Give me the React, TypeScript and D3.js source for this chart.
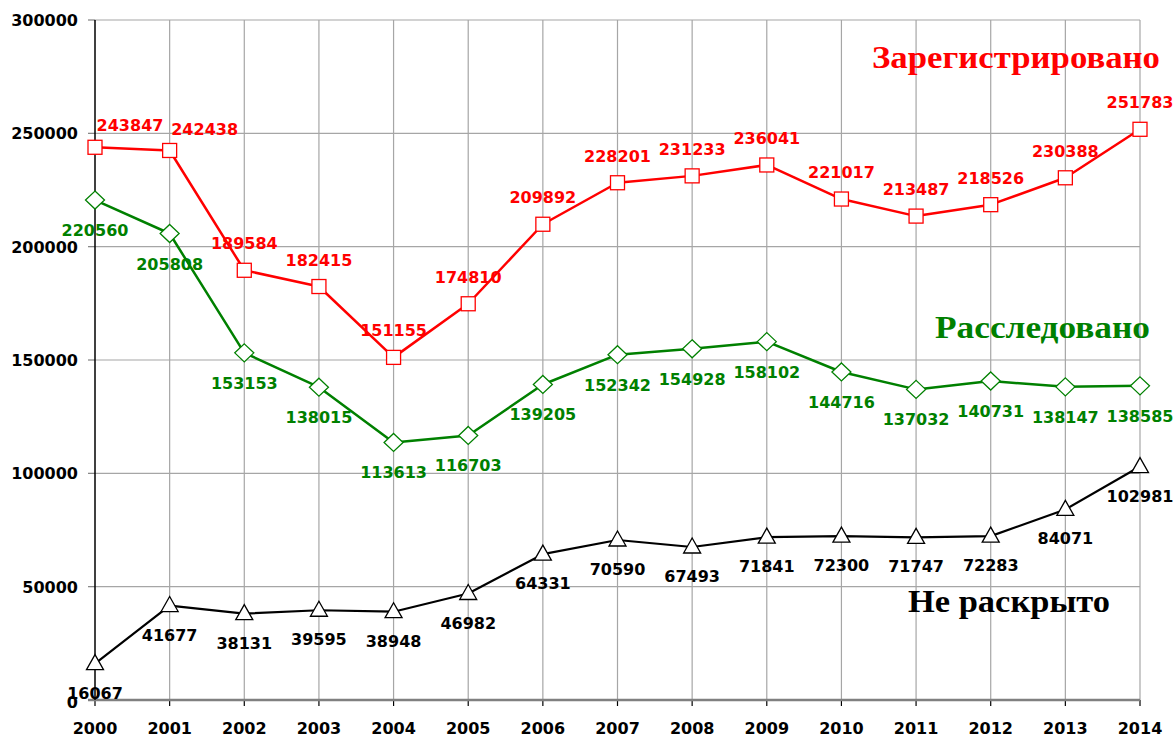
import React from "react";
import * as d3 from "d3";

const years = [2000, 2001, 2002, 2003, 2004, 2005, 2006, 2007, 2008, 2009, 2010, 2011, 2012, 2013, 2014];
const registered = [243847, 242438, 189584, 182415, 151155, 174810, 209892, 228201, 231233, 236041, 221017, 213487, 218526, 230388, 251783];
const investigated = [220560, 205808, 153153, 138015, 113613, 116703, 139205, 152342, 154928, 158102, 144716, 137032, 140731, 138147, 138585];
const unsolved = [16067, 41677, 38131, 39595, 38948, 46982, 64331, 70590, 67493, 71841, 72300, 71747, 72283, 84071, 102981];
const yTicks = [0, 50000, 100000, 150000, 200000, 250000, 300000];

const W = 1175;
const H = 738;
const x = d3.scaleLinear().domain([2000, 2014]).range([95, 1140]);
const y = d3.scaleLinear().domain([0, 300000]).range([700, 20]);

const FONT = "'DejaVu Sans', Verdana, sans-serif";
const SERIF = "'Liberation Serif', 'Times New Roman', serif";

const line = d3
  .line<[number, number]>()
  .x((d) => x(d[0]))
  .y((d) => y(d[1]));

// label offset rules (dx, baseline dy) per series; a few overrides for crowded points
const redOffset = (i: number): [number, number] => (i === 0 ? [35, -16] : i === 1 ? [35, -15] : [0, -21]);
const greenOffset = (_i: number): [number, number] => [0, 36];
const blackOffset = (_i: number): [number, number] => [0, 35];

function Series({
  values,
  color,
  width,
  marker,
  offset,
}: {
  values: number[];
  color: string;
  width: number;
  marker: "square" | "diamond" | "triangle";
  offset: (i: number) => [number, number];
}) {
  const pts: [number, number][] = years.map((yr, i) => [yr, values[i]]);
  return (
    <g>
      <path d={line(pts) || ""} fill="none" stroke={color} strokeWidth={width} strokeLinejoin="round" />
      {pts.map(([yr, v], i) => {
        const cx = x(yr);
        const cy = y(v);
        if (marker === "square")
          return <rect key={i} x={cx - 7} y={cy - 7} width={14} height={14} fill="white" stroke={color} strokeWidth={1.3} />;
        if (marker === "diamond")
          return (
            <path
              key={i}
              d={`M${cx},${cy - 9}L${cx + 9.5},${cy}L${cx},${cy + 9}L${cx - 9.5},${cy}Z`}
              fill="white"
              stroke={color}
              strokeWidth={1.3}
            />
          );
        return (
          <path
            key={i}
            d={`M${cx},${cy - 9}L${cx + 8.5},${cy + 6}L${cx - 8.5},${cy + 6}Z`}
            fill="white"
            stroke={color}
            strokeWidth={1.3}
          />
        );
      })}
      {pts.map(([yr, v], i) => {
        const [dx, dy] = offset(i);
        return (
          <text
            key={"t" + i}
            x={x(yr) + dx}
            y={y(v) + dy}
            textAnchor="middle"
            fontFamily={FONT}
            fontWeight="bold"
            fontSize={16}
            fill={color}
          >
            {v}
          </text>
        );
      })}
    </g>
  );
}

export default function App() {
  const grid = "#a6a6a6";
  return (
    <svg width={W} height={H} style={{ position: "absolute", left: 0, top: 0, background: "white" }}>
      <rect width={W} height={H} fill="white" />
      {/* horizontal grid */}
      {yTicks.map((t) => (
        <g key={t}>
          {t > 0 && <line x1={x(2000)} x2={x(2014)} y1={y(t)} y2={y(t)} stroke={grid} strokeWidth={1.2} />}
          <line x1={88} x2={x(2000)} y1={y(t)} y2={y(t)} stroke="#808080" strokeWidth={1.2} />
          <text
            x={78}
            y={y(t) + (t === 0 ? 8 : 6)}
            textAnchor="end"
            fontFamily={FONT}
            fontWeight="bold"
            fontSize={16}
            fill="black"
          >
            {t}
          </text>
        </g>
      ))}
      {/* vertical grid */}
      {years.map((yr) => (
        <g key={yr}>
          {yr > 2000 && <line x1={x(yr)} x2={x(yr)} y1={y(300000)} y2={y(0)} stroke={grid} strokeWidth={1.2} />}
          <line x1={x(yr)} x2={x(yr)} y1={y(0)} y2={y(0) + 6} stroke="black" strokeWidth={1.2} />
          <text x={x(yr)} y={734} textAnchor="middle" fontFamily={FONT} fontWeight="bold" fontSize={16} fill="black">
            {yr}
          </text>
        </g>
      ))}
      {/* axes */}
      <line x1={88} x2={x(2014)} y1={y(0)} y2={y(0)} stroke="#808080" strokeWidth={2.5} />
      <line x1={x(2000)} x2={x(2000)} y1={y(300000)} y2={y(0)} stroke="black" strokeWidth={1.5} />

      <Series values={unsolved} color="black" width={2.2} marker="triangle" offset={blackOffset} />
      <Series values={investigated} color="#008000" width={2.5} marker="diamond" offset={greenOffset} />
      <Series values={registered} color="#ff0000" width={2.5} marker="square" offset={redOffset} />

      <text
        x={872}
        y={68}
        textLength={288}
        lengthAdjust="spacingAndGlyphs"
        fontFamily={SERIF}
        fontWeight="bold"
        fontSize={31}
        fill="#ff0000"
      >
        Зарегистрировано
      </text>
      <text
        x={935}
        y={338}
        textLength={215}
        lengthAdjust="spacingAndGlyphs"
        fontFamily={SERIF}
        fontWeight="bold"
        fontSize={31}
        fill="#008000"
      >
        Расследовано
      </text>
      <text
        x={908}
        y={612}
        textLength={202}
        lengthAdjust="spacingAndGlyphs"
        fontFamily={SERIF}
        fontWeight="bold"
        fontSize={31}
        fill="black"
      >
        Не раскрыто
      </text>
    </svg>
  );
}
